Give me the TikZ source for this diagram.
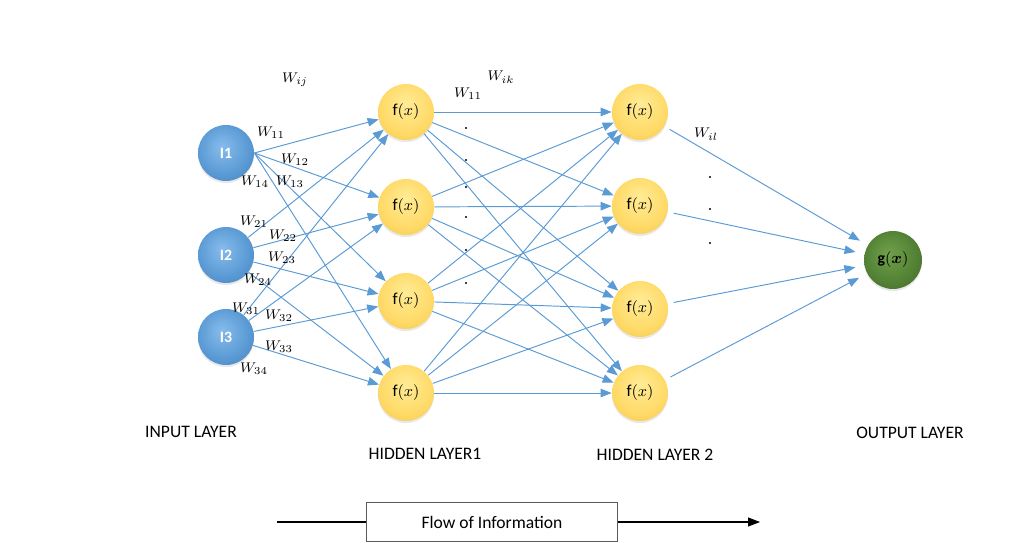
\documentclass[tikz,border=0pt]{standalone}
\usepackage{fontspec}
\setmainfont{Carlito}
\usepackage{xcolor}
\usepackage{amsmath}
\usepackage{tikz}
\usetikzlibrary{arrows.meta,arrows}
\usetikzlibrary{shadows}
\definecolor{inputlight}{RGB}{135,188,236}
\definecolor{inputmid}{RGB}{91,155,213}
\definecolor{inputdark}{RGB}{58,112,178}
\definecolor{hiddenlight}{RGB}{255,236,150}
\definecolor{hiddenmid}{RGB}{255,217,102}
\definecolor{hiddendark}{RGB}{228,182,52}
\definecolor{outputlight}{RGB}{112,160,76}
\definecolor{outputmid}{RGB}{84,130,53}
\definecolor{outputdark}{RGB}{50,86,30}
\definecolor{linkblue}{RGB}{91,155,213}
\definecolor{boxgrey}{RGB}{90,90,90}
\pgfdeclareradialshading{inputball}{\pgfpoint{-4bp}{6bp}}{color(0bp)=(inputlight); color(22bp)=(inputmid); color(46bp)=(inputdark); color(50bp)=(inputdark)}
\pgfdeclareradialshading{hiddenball}{\pgfpoint{0bp}{8bp}}{color(0bp)=(hiddenlight); color(24bp)=(hiddenmid); color(46bp)=(hiddendark); color(50bp)=(hiddendark)}
\pgfdeclareradialshading{outputball}{\pgfpoint{-4bp}{6bp}}{color(0bp)=(outputlight); color(22bp)=(outputmid); color(46bp)=(outputdark); color(50bp)=(outputdark)}
\tikzset{
  neuron/.style={circle,minimum size=1.12cm,inner sep=0pt,
    drop shadow={opacity=0.18,shadow xshift=0pt,shadow yshift=-1.2pt}},
  innode/.style={neuron,shading=inputball,text=white,font=\fontsize{9}{10}\selectfont\bfseries},
  hidnode/.style={neuron,shading=hiddenball,font=\fontsize{9.5}{10}\selectfont},
  outnode/.style={neuron,minimum size=1.16cm,shading=outputball,font=\fontsize{9}{10}\selectfont},
  link/.style={draw=linkblue,line width=0.55pt,-{Triangle[length=2.2mm,width=1.7mm]}},
  wlabel/.style={font=\fontsize{8.5}{9}\selectfont,inner sep=0pt},
  wdot/.style={circle,fill=black,inner sep=0pt,minimum size=1.3pt},
  layerlabel/.style={font=\fontsize{10}{12}\selectfont,inner sep=0pt},
  flowbox/.style={draw=boxgrey,line width=0.5pt,minimum width=5.02cm,minimum height=0.78cm,
    font=\fontsize{10}{12}\selectfont}
}
\begin{document}
\begin{tikzpicture}[x=0.02cm,y=-0.02cm]
\useasboundingbox (0,0) rectangle (1013,543);

\node[innode] (in1) at (226,153) {I1};
\node[innode] (in2) at (226,255) {I2};
\node[innode] (in3) at (226,337) {I3};

\node[hidnode] (ha1) at (406,112) {f$(x)$};
\node[hidnode] (ha2) at (406,207) {f$(x)$};
\node[hidnode] (ha3) at (406,301) {f$(x)$};
\node[hidnode] (ha4) at (406,393) {f$(x)$};

\node[hidnode] (hb1) at (640,112) {f$(x)$};
\node[hidnode] (hb2) at (640,206) {f$(x)$};
\node[hidnode] (hb3) at (640,309) {f$(x)$};
\node[hidnode] (hb4) at (640,393) {f$(x)$};

\node[outnode] (gout) at (893,260) {$\mathbf{g}(\boldsymbol{x})$};

\foreach \j in {1,...,4}
  \draw[link] (in1.east) -- (ha\j);
\foreach \i in {2,3}
  \foreach \j in {1,...,4}
    \draw[link] (in\i) -- (ha\j);
\foreach \j in {1,...,4}
  \foreach \k in {1,...,4}
    \draw[link] (ha\j) -- (hb\k);
\foreach \k in {1,...,4}
  \draw[link,shorten <=0.12cm,shorten >=0.18cm] (hb\k) -- (gout);

\node[wlabel] (wij) at (295,80) {$W_{ij}$};
\node[wlabel] (w11) at (271,133) {$W_{11}$};
\node[wlabel] (w12) at (295,160) {$W_{12}$};
\node[wlabel] (w13) at (290,182) {$W_{13}$};
\node[wlabel] (w14) at (255,182) {$W_{14}$};
\node[wlabel] (w21) at (254,222) {$W_{21}$};
\node[wlabel] (w22) at (283,236) {$W_{22}$};
\node[wlabel] (w23) at (282,258) {$W_{23}$};
\node[wlabel] (w24) at (258,280) {$W_{24}$};
\node[wlabel] (w31) at (246,309) {$W_{31}$};
\node[wlabel] (w32) at (279,316) {$W_{32}$};
\node[wlabel] (w33) at (279,347) {$W_{33}$};
\node[wlabel] (w34) at (254,369) {$W_{34}$};
\node[wlabel] (wik) at (501,77) {$W_{ik}$};
\node[wlabel] (wk11) at (468,94) {$W_{11}$};
\node[wlabel] (wil) at (706,134) {$W_{il}$};

\foreach \y [count=\n] in {128,160,187,217,250,283}
  \node[wdot] (dk\n) at (466,\y) {};
\foreach \y [count=\n] in {177,209,243}
  \node[wdot] (dl\n) at (710,\y) {};

\node[layerlabel] (inlayer) at (191,432) {INPUT LAYER};
\node[layerlabel] (hidlayera) at (425,454) {HIDDEN LAYER1};
\node[layerlabel] (hidlayerb) at (655,455) {HIDDEN LAYER 2};
\node[layerlabel] (outlayer) at (910,433) {OUTPUT LAYER};

\node[flowbox] (flow) at (492,522) {Flow of Information};
\coordinate (flowstart) at (277,522);
\coordinate (flowend) at (760,522);
\draw[line width=0.6pt] (flowstart) -- (flow.west);
\draw[line width=0.6pt,-{Triangle[length=2.4mm,width=1.8mm]}] (flow.east) -- (flowend);
\end{tikzpicture}
\end{document}
